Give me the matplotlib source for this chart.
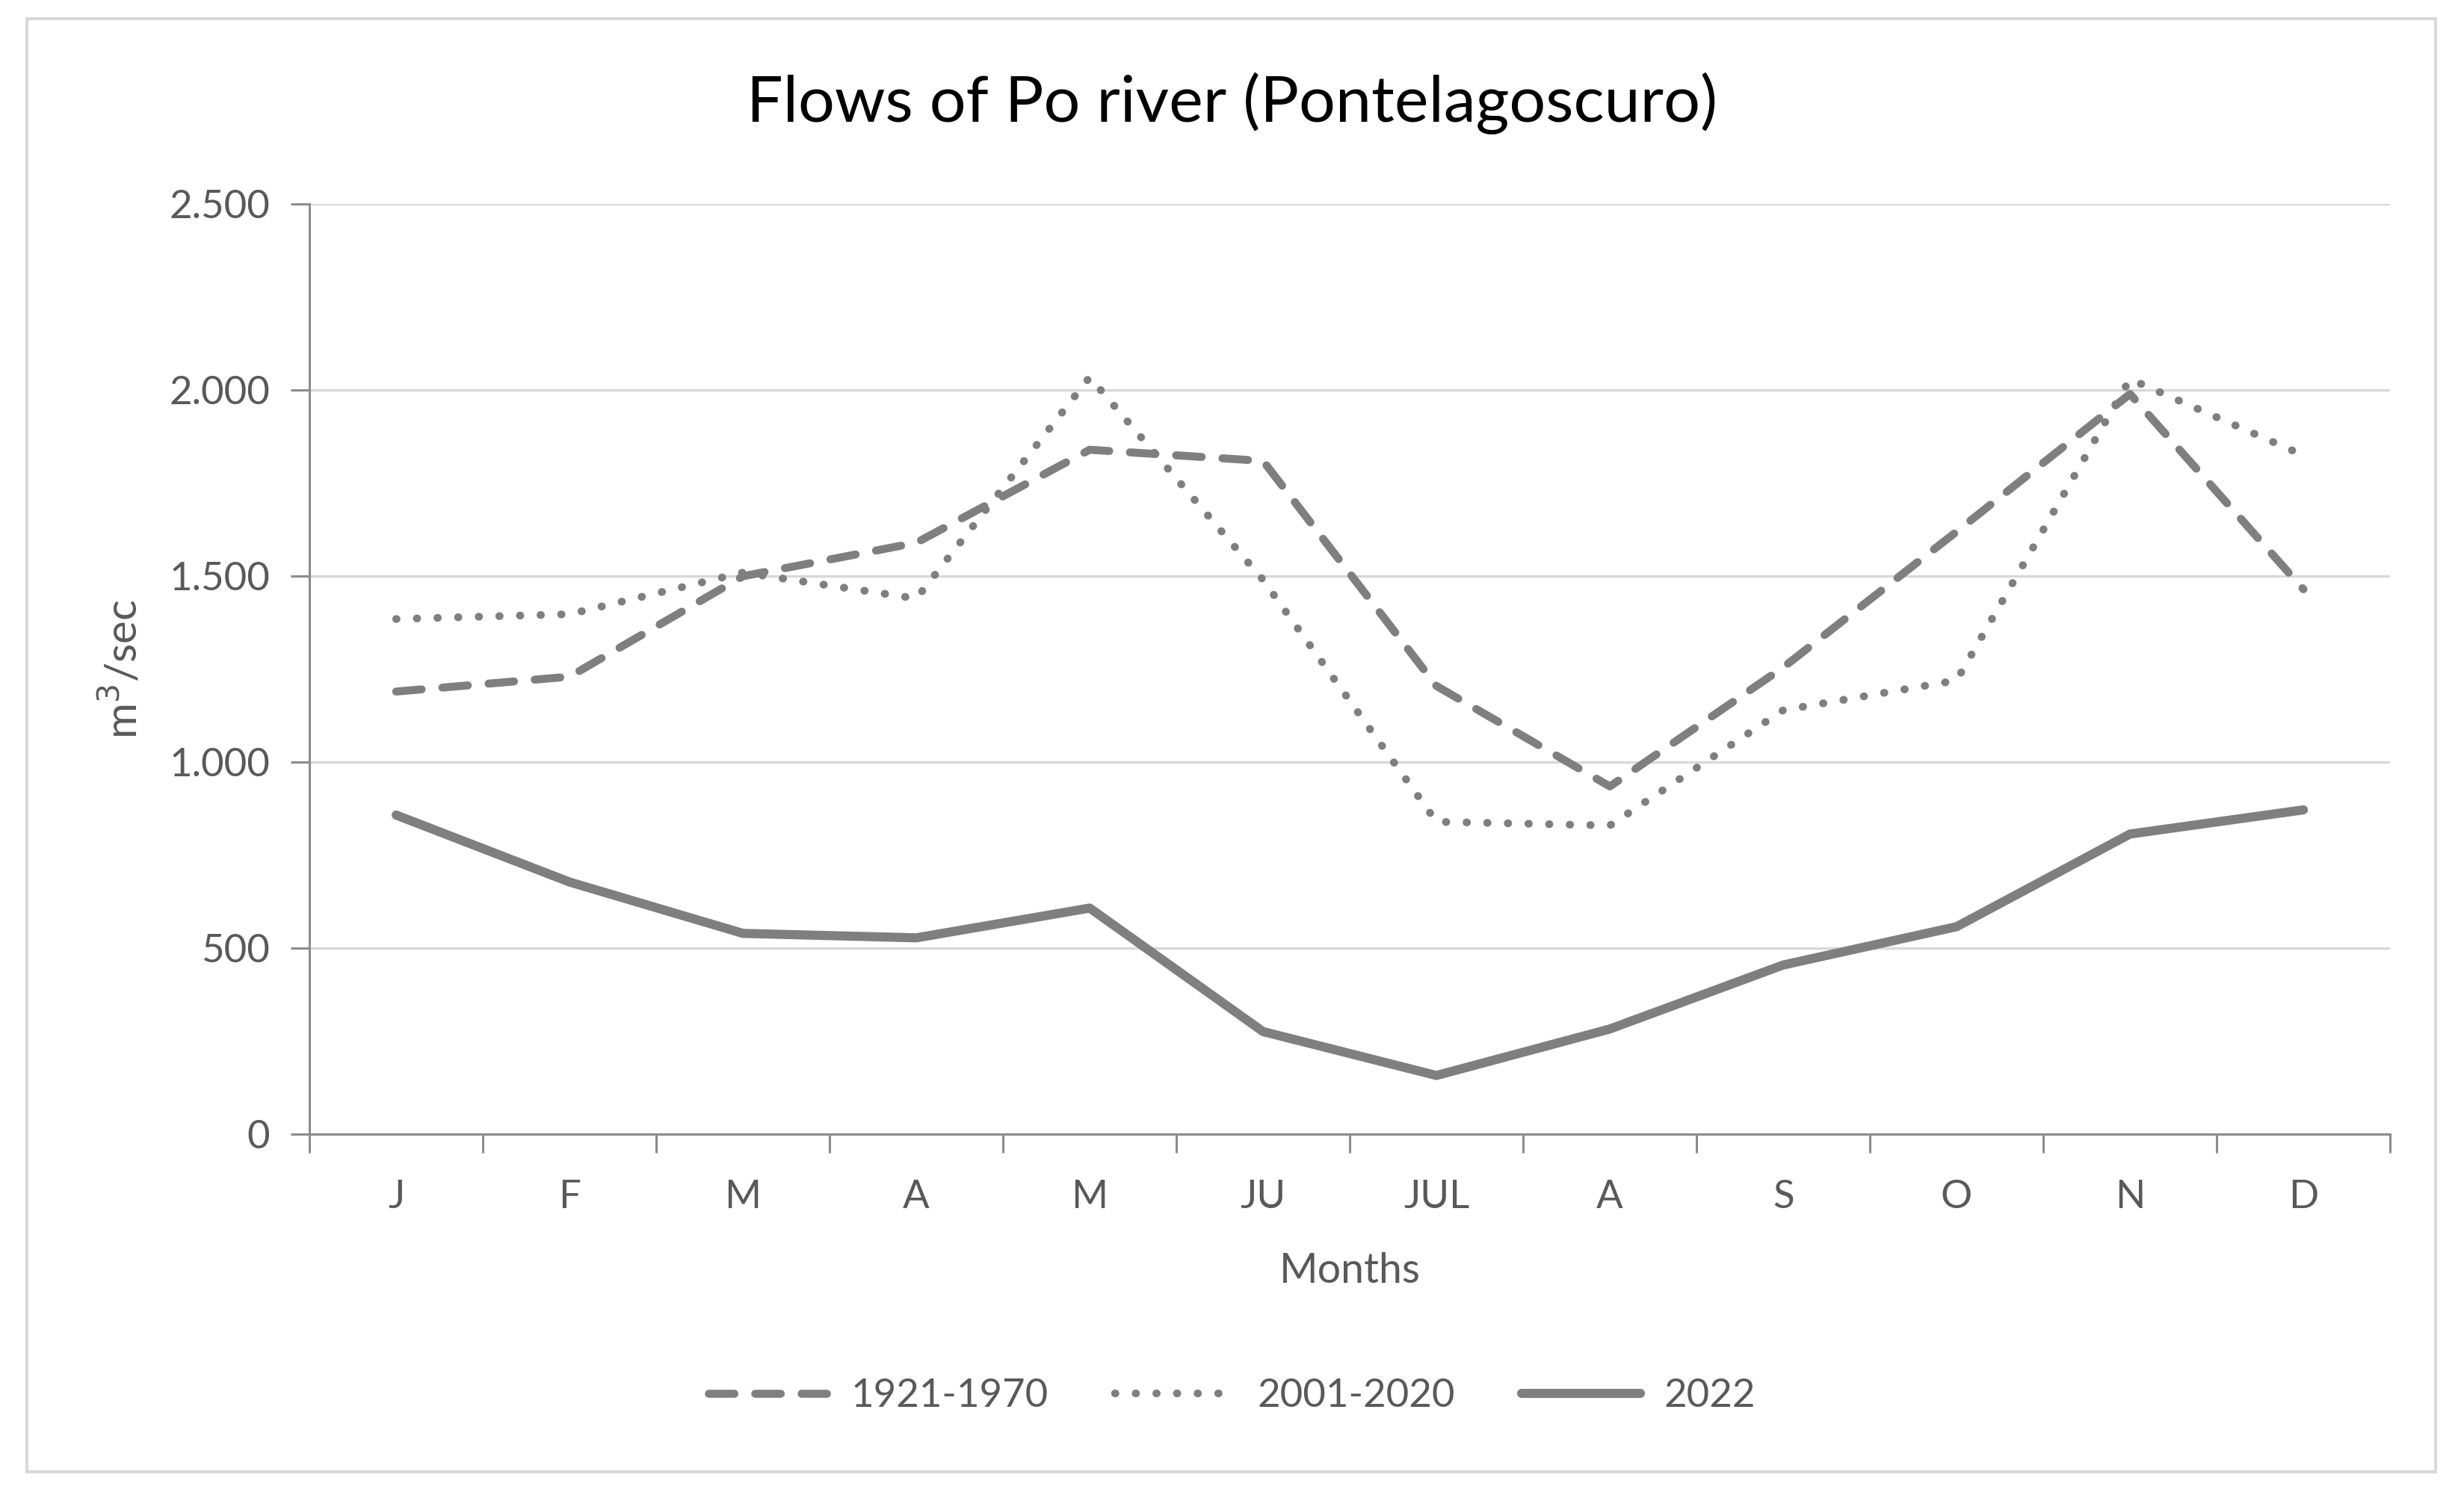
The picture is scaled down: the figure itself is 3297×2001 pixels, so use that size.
import matplotlib
matplotlib.use("Agg")
import matplotlib.pyplot as plt
from matplotlib.patches import Rectangle
from matplotlib.ticker import FuncFormatter, FixedLocator

# data (m3/sec)
months = ["J", "F", "M", "A", "M", "JU", "JUL", "A", "S", "O", "N", "D"]
flow_1921_1970 = [1190, 1230, 1500, 1590, 1840, 1810, 1205, 935, 1255, 1620, 1990, 1465]
flow_2001_2020 = [1385, 1398, 1510, 1440, 2035, 1490, 840, 830, 1140, 1220, 2030, 1825]
flow_2022 = [858, 678, 540, 528, 608, 276, 158, 283, 455, 558, 807, 872]

series_names = ["1921-1970", "2001-2020", "2022"]

plt.rcParams['font.family'] = ['Lato', 'DejaVu Sans']
line_col = "#7f7f7f"
text_col = "#595959"

fig = plt.figure(figsize=(32.97, 20.01), dpi=100)
ax = fig.add_axes([0.1256, 0.2413, 0.8444, 0.6221])

x = list(range(len(months)))
ax.plot(x, flow_1921_1970, color=line_col, lw=7.7, ls=(0, (3.2, 2.6)),
        dash_capstyle='round', label=series_names[0])
ax.plot(x, flow_2001_2020, color=line_col, lw=7.5, ls=(0, (0.05, 2.6)),
        dash_capstyle='round', label=series_names[1])
ax.plot(x, flow_2022, color=line_col, lw=8.8, solid_capstyle='round',
        label=series_names[2])

ax.set_xlim(-0.5, len(months) - 0.5)
ax.set_ylim(0, 2500)
ax.set_yticks([0, 500, 1000, 1500, 2000, 2500])
ax.yaxis.set_major_formatter(FuncFormatter(lambda v, p: f"{int(v):,}".replace(",", ".")))
ax.set_xticks(x)
ax.set_xticklabels(months)
ax.xaxis.set_minor_locator(FixedLocator([i - 0.5 for i in range(len(months) + 1)]))
ax.tick_params(axis='x', which='major', length=0, pad=44, labelsize=38, labelcolor=text_col)
ax.tick_params(axis='x', which='minor', length=18, width=2.2, color="#8c8c8c")
ax.tick_params(axis='y', length=18, width=2.2, color="#8c8c8c", pad=20,
               labelsize=38, labelcolor=text_col)

ax.grid(axis='y', color="#d9d9d9", lw=2.5)
ax.set_axisbelow(True)
for s in ['top', 'right']:
    ax.spines[s].set_visible(False)
for s in ['left', 'bottom']:
    ax.spines[s].set_color("#8c8c8c")
    ax.spines[s].set_linewidth(2.2)

ax.set_xlabel("Months", fontsize=40, color=text_col, labelpad=36)
ax.set_ylabel("m$^3$/sec", fontsize=42, color=text_col, labelpad=24)
fig.text(0.5, 0.931, "Flows of Po river (Pontelagoscuro)", ha='center', va='center',
         fontsize=62, color="#000000")

fig.legend(loc='center', bbox_to_anchor=(0.5, 0.066), ncol=3, frameon=False,
           fontsize=38, labelcolor=text_col, handlelength=3.0, handletextpad=0.6,
           columnspacing=1.7)

fig.patches.append(Rectangle((0.0108, 0.0153), 0.9777, 0.9721, transform=fig.transFigure,
                             fill=False, edgecolor="#d9d9d9", lw=3))

fig.savefig("out.png", dpi=100, facecolor="white")
